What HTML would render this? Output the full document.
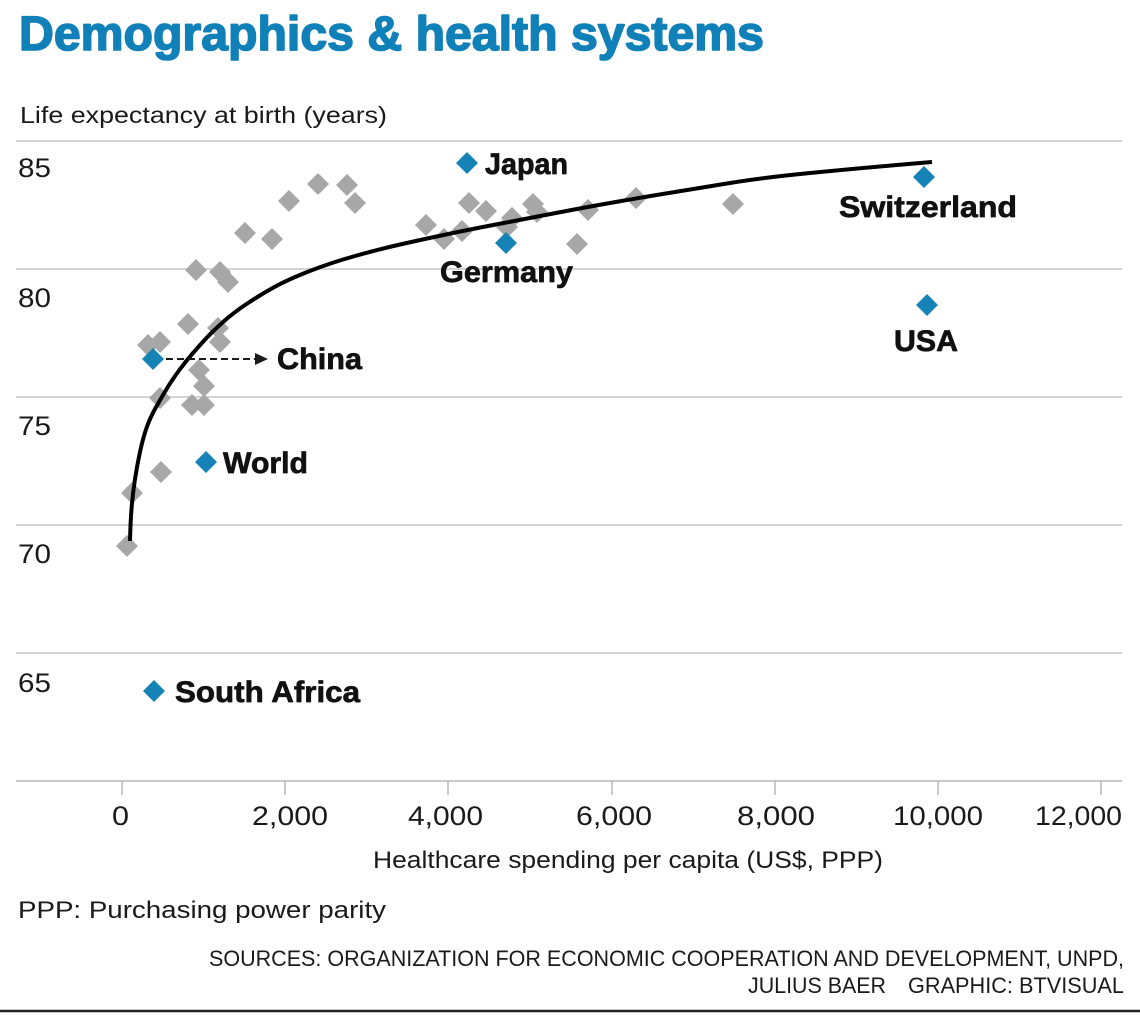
<!DOCTYPE html>
<html>
<head>
<meta charset="utf-8">
<style>
  html, body { margin: 0; padding: 0; background: #ffffff; }
  svg { display: block; }
  text { font-family: "Liberation Sans", "DejaVu Sans", sans-serif; }
</style>
</head>
<body>
<svg width="1140" height="1024" viewBox="0 0 1140 1024" xmlns="http://www.w3.org/2000/svg">
  <defs>
    <path id="dm" d="M0,-11L11,0L0,11L-11,0Z"/>
  </defs>
  <rect x="0" y="0" width="1140" height="1024" fill="#ffffff"/>

  <!-- Title -->
  <text x="19" y="50" font-size="48" font-weight="bold" fill="#1080b8" stroke="#1080b8" stroke-width="1.6" stroke-linejoin="round" textLength="745" lengthAdjust="spacingAndGlyphs">Demographics &amp; health systems</text>

  <!-- Y axis title -->
  <text x="20" y="123" font-size="23" fill="#1a1a1a" textLength="367" lengthAdjust="spacingAndGlyphs">Life expectancy at birth (years)</text>

  <!-- Gridlines -->
  <g stroke="#c6c6c6" stroke-width="1.5">
    <line x1="16" y1="141" x2="1122" y2="141"/>
    <line x1="16" y1="269" x2="1122" y2="269"/>
    <line x1="16" y1="397" x2="1122" y2="397"/>
    <line x1="16" y1="525" x2="1122" y2="525"/>
    <line x1="16" y1="653" x2="1122" y2="653"/>
    <line x1="16" y1="781" x2="1122" y2="781" stroke="#b8b8b8"/>
  </g>

  <!-- Ticks -->
  <g stroke="#b8b8b8" stroke-width="1.5">
    <line x1="122" y1="781" x2="122" y2="795"/>
    <line x1="285" y1="781" x2="285" y2="795"/>
    <line x1="448" y1="781" x2="448" y2="795"/>
    <line x1="612" y1="781" x2="612" y2="795"/>
    <line x1="775" y1="781" x2="775" y2="795"/>
    <line x1="938" y1="781" x2="938" y2="795"/>
    <line x1="1101" y1="781" x2="1101" y2="795"/>
  </g>

  <!-- Y labels -->
  <g font-size="27" fill="#1a1a1a">
    <text x="18" y="177" textLength="33" lengthAdjust="spacingAndGlyphs">85</text>
    <text x="18" y="307" textLength="33" lengthAdjust="spacingAndGlyphs">80</text>
    <text x="18" y="435" textLength="33" lengthAdjust="spacingAndGlyphs">75</text>
    <text x="18" y="563" textLength="33" lengthAdjust="spacingAndGlyphs">70</text>
    <text x="18" y="692" textLength="33" lengthAdjust="spacingAndGlyphs">65</text>
  </g>

  <!-- X labels -->
  <g font-size="27" fill="#1a1a1a">
    <text x="112" y="825" textLength="17" lengthAdjust="spacingAndGlyphs">0</text>
    <text x="252" y="825" textLength="76" lengthAdjust="spacingAndGlyphs">2,000</text>
    <text x="408" y="825" textLength="75" lengthAdjust="spacingAndGlyphs">4,000</text>
    <text x="576" y="825" textLength="76" lengthAdjust="spacingAndGlyphs">6,000</text>
    <text x="737" y="825" textLength="78" lengthAdjust="spacingAndGlyphs">8,000</text>
    <text x="893" y="825" textLength="90" lengthAdjust="spacingAndGlyphs">10,000</text>
    <text x="1035" y="825" textLength="87" lengthAdjust="spacingAndGlyphs">12,000</text>
  </g>

  <!-- X axis title -->
  <text x="373" y="868" font-size="24" fill="#1a1a1a" textLength="510" lengthAdjust="spacingAndGlyphs">Healthcare spending per capita (US$, PPP)</text>

  <!-- Gray points -->
  <g fill="#a7a7a7">
    <use href="#dm" x="318" y="184"/>
    <use href="#dm" x="347" y="185"/>
    <use href="#dm" x="355" y="203"/>
    <use href="#dm" x="289" y="201"/>
    <use href="#dm" x="245" y="233"/>
    <use href="#dm" x="272" y="239"/>
    <use href="#dm" x="196" y="270"/>
    <use href="#dm" x="220" y="272"/>
    <use href="#dm" x="228" y="282"/>
    <use href="#dm" x="188" y="324"/>
    <use href="#dm" x="218" y="328"/>
    <use href="#dm" x="220" y="342"/>
    <use href="#dm" x="160" y="342"/>
    <use href="#dm" x="148" y="345"/>
    <use href="#dm" x="199" y="370"/>
    <use href="#dm" x="204" y="386"/>
    <use href="#dm" x="160" y="398"/>
    <use href="#dm" x="192" y="405"/>
    <use href="#dm" x="204" y="405"/>
    <use href="#dm" x="161" y="472"/>
    <use href="#dm" x="132" y="493"/>
    <use href="#dm" x="127" y="546"/>
    <use href="#dm" x="426" y="225"/>
    <use href="#dm" x="444" y="239"/>
    <use href="#dm" x="462" y="231"/>
    <use href="#dm" x="469" y="203"/>
    <use href="#dm" x="486" y="211"/>
    <use href="#dm" x="512" y="218"/>
    <use href="#dm" x="507" y="227"/>
    <use href="#dm" x="533" y="204"/>
    <use href="#dm" x="537" y="212"/>
    <use href="#dm" x="588" y="210"/>
    <use href="#dm" x="577" y="244"/>
    <use href="#dm" x="636" y="198"/>
    <use href="#dm" x="733" y="204"/>
  </g>

  <!-- Trend curve (smoothed) -->
  <path fill="none" stroke="#000000" stroke-width="4" stroke-linejoin="round"
    d="M130,541 Q130.5,520 131.75,506 Q133,492 135,479 Q137,466 140,452 Q143,438 146.5,428 Q150,418 155,409 Q160,400 166,390 Q172,380 179,370.5 Q186,361 193,353 Q200,345 206,338.5 Q212,332 222.5,322.5 Q233,313 246.5,304 Q260,295 273.5,287.5 Q287,280 308.5,271.5 Q330,263 355,256 Q380,249 400,244.5 Q420,240 443.5,235 Q467,230 498.5,224 Q530,218 558.5,212.5 Q587,207 618.5,201.5 Q650,196 675,192 Q700,188 730,183 Q760,178 805,173.5 Q850,169 891,165.5 L932,162"/>

  <!-- China arrow -->
  <line x1="166" y1="359" x2="257" y2="359" stroke="#1a1a1a" stroke-width="2" stroke-dasharray="7 4"/>
  <polygon points="255,353 268,359 255,365" fill="#1a1a1a"/>

  <!-- Blue points -->
  <g fill="#1683b7">
    <use href="#dm" x="467" y="163"/>
    <use href="#dm" x="506" y="243"/>
    <use href="#dm" x="924" y="177"/>
    <use href="#dm" x="927" y="305"/>
    <use href="#dm" x="153" y="359"/>
    <use href="#dm" x="206" y="462"/>
    <use href="#dm" x="154" y="691"/>
  </g>

  <!-- Point labels -->
  <g font-size="30" font-weight="bold" fill="#111111" stroke="#111111" stroke-width="0.7" stroke-linejoin="round">
    <text x="485" y="174" textLength="83" lengthAdjust="spacingAndGlyphs">Japan</text>
    <text x="440" y="282" textLength="133" lengthAdjust="spacingAndGlyphs">Germany</text>
    <text x="839" y="217" textLength="178" lengthAdjust="spacingAndGlyphs">Switzerland</text>
    <text x="894" y="351" textLength="64" lengthAdjust="spacingAndGlyphs">USA</text>
    <text x="277" y="369" textLength="85" lengthAdjust="spacingAndGlyphs">China</text>
    <text x="223" y="473" textLength="85" lengthAdjust="spacingAndGlyphs">World</text>
    <text x="175" y="702" textLength="185" lengthAdjust="spacingAndGlyphs">South Africa</text>
  </g>

  <!-- Footer -->
  <text x="18" y="918" font-size="24" fill="#1a1a1a" textLength="368" lengthAdjust="spacingAndGlyphs">PPP: Purchasing power parity</text>
  <text x="209" y="966" font-size="22" fill="#1a1a1a" textLength="915" lengthAdjust="spacingAndGlyphs">SOURCES: ORGANIZATION FOR ECONOMIC COOPERATION AND DEVELOPMENT, UNPD,</text>
  <text x="748" y="993" font-size="22" fill="#1a1a1a" textLength="138" lengthAdjust="spacingAndGlyphs">JULIUS BAER</text>
  <text x="908" y="993" font-size="22" fill="#1a1a1a" textLength="216" lengthAdjust="spacingAndGlyphs">GRAPHIC: BTVISUAL</text>

  <!-- Bottom rule -->
  <line x1="0" y1="1011" x2="1140" y2="1011" stroke="#222222" stroke-width="2.5"/>
</svg>
</body>
</html>
